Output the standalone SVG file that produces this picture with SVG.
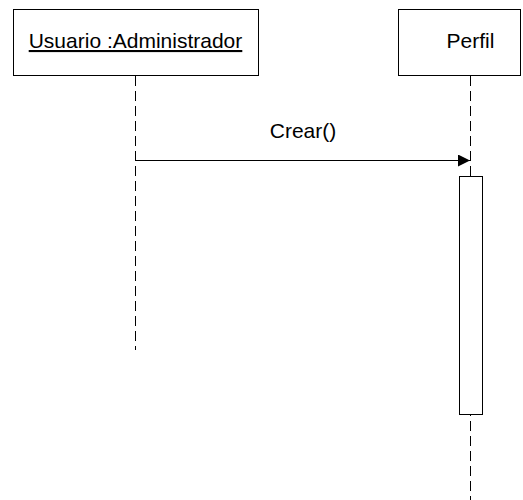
<svg xmlns="http://www.w3.org/2000/svg" width="523" height="500" viewBox="0 0 523 500">
  <style>
    .box { fill: #fff; stroke: #000; stroke-width: 1; }
    .label { font-family: "Liberation Sans", Arial, sans-serif; font-size: 21px; fill: #000; text-anchor: middle; }
    .life { stroke: #000; stroke-width: 1; stroke-dasharray: 10 5; fill: none; }
    .msg { stroke: #000; stroke-width: 1; fill: none; }
  </style>
  <defs>
    <marker id="filled" markerWidth="12" markerHeight="12" refX="12" refY="6" orient="auto" markerUnits="userSpaceOnUse">
      <path d="M0,0 L12,6 L0,12 Z" fill="#000"/>
    </marker>
  </defs>
  <rect width="523" height="500" fill="#fff"/>

  <g id="usuario">
    <rect class="box" x="13.5" y="9.5" width="245" height="66"/>
    <text class="label" x="135.5" y="48" text-decoration="underline">Usuario :Administrador</text>
  </g>

  <g id="perfil">
    <rect class="box" x="398.5" y="9.5" width="122" height="66"/>
    <text class="label" x="470.5" y="48">Perfil</text>
  </g>

  <g id="connectors">
    <line class="life" x1="135.5" y1="76" x2="135.5" y2="350"/>
    <line class="life" x1="470.5" y1="76" x2="470.5" y2="500"/>
    <line class="msg" x1="135" y1="160.5" x2="470" y2="160.5" marker-end="url(#filled)"/>
    <text class="label" x="303" y="138">Crear()</text>
  </g>

  <g id="activacion">
    <rect class="box" x="459.5" y="176.5" width="23" height="238"/>
  </g>
</svg>
